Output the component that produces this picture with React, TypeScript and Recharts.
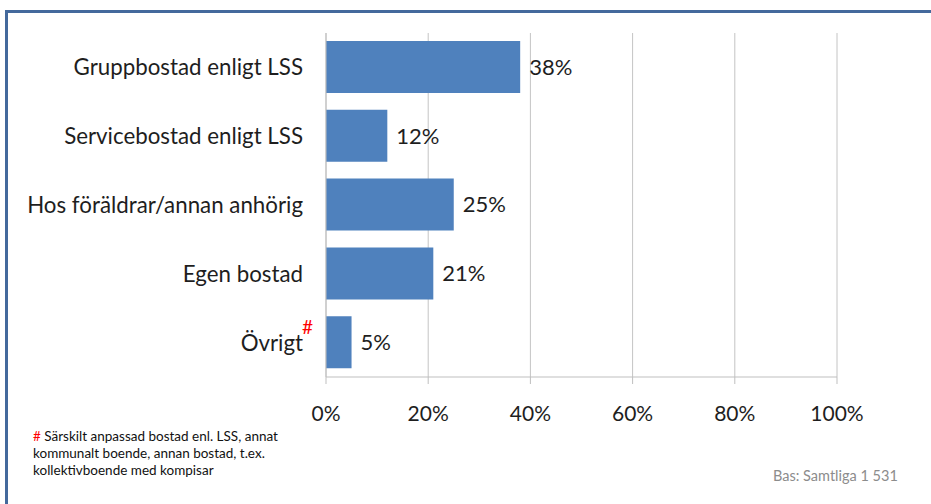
import React from "react";
import { BarChart, Bar, XAxis, YAxis, CartesianGrid, LabelList } from "recharts";

const categories = [
  "Gruppbostad enligt LSS",
  "Servicebostad enligt LSS",
  "Hos föräldrar/annan anhörig",
  "Egen bostad",
  "Övrigt",
];
const values = [38, 12, 25, 21, 5];
const xTicks = [0, 20, 40, 60, 80, 100];
const footnoteLines = [
  "Särskilt anpassad bostad enl. LSS, annat",
  "kommunalt boende, annan bostad, t.ex.",
  "kollektivboende med kompisar",
];
const baseText = "Bas: Samtliga 1 531";

const data = categories.map((name, i) => ({ name, value: values[i] }));

const FONT = "Lato, 'Open Sans', sans-serif";
const TEXT = "#1e1e1e";

const CatTick = (props: any) => {
  const { x, y, payload } = props;
  const isOther = payload.value === "Övrigt";
  return (
    <g>
      <text x={x} y={y} dy="0.355em" textAnchor="end" fontSize={22.3} fill={TEXT} fontFamily={FONT}>
        {payload.value}
      </text>
      {isOther && (
        <text x={x - 1} y={y} dy={-9} textAnchor="start" fontSize={19} fill="#ff0000" fontFamily={FONT}>
          #
        </text>
      )}
    </g>
  );
};

export default function App() {
  return (
    <div style={{ position: "absolute", left: 0, top: 0, width: 931, height: 504, background: "#fff", overflow: "hidden" }}>
      <div style={{ position: "absolute", left: 0, top: 0 }}>
        <BarChart
          width={931}
          height={504}
          data={data}
          layout="vertical"
          margin={{ top: 33, right: 94, left: 0, bottom: 0 }}
        >
          <CartesianGrid horizontal={false} stroke="#c4c4c4" />
          <XAxis
            type="number"
            domain={[0, 100]}
            ticks={xTicks}
            tickFormatter={(v: number) => `${v}%`}
            height={127}
            tickSize={7}
            tickMargin={22}
            axisLine={{ stroke: "#bfbfbf" }}
            tickLine={{ stroke: "#bfbfbf" }}
            tick={{ fontSize: 21, fill: TEXT, fontFamily: FONT }}
            interval={0}
          />
          <YAxis
            type="category"
            dataKey="name"
            width={326}
            tickSize={0}
            tickMargin={23}
            axisLine={{ stroke: "#bfbfbf" }}
            tickLine={false}
            tick={<CatTick />}
            interval={0}
          />
          <Bar dataKey="value" fill="#4f81bd" barSize={52} isAnimationActive={false}>
            <LabelList
              dataKey="value"
              position="right"
              offset={9}
              formatter={(v: any) => `${v}%`}
              style={{ fontSize: 22, fill: TEXT, fontFamily: FONT }}
            />
          </Bar>
        </BarChart>
      </div>
      <div style={{ position: "absolute", left: 880, top: 14, width: 51, height: 440, background: "#fff" }} />
      <div style={{ position: "absolute", left: 5, top: 10, width: 926, height: 3, background: "#44699c" }} />
      <div style={{ position: "absolute", left: 5, top: 10, width: 3, height: 494, background: "#44699c" }} />
      <div
        style={{
          position: "absolute",
          left: 33,
          top: 428,
          fontFamily: FONT,
          fontSize: 13.5,
          lineHeight: "17px",
          color: "#111",
        }}
      >
        {footnoteLines.map((l, i) => (
          <div key={i} style={{ whiteSpace: "nowrap" }}>
            {i === 0 && <span style={{ color: "#ff0000" }}># </span>}
            {l}
          </div>
        ))}
      </div>
      <div
        style={{
          position: "absolute",
          left: 773,
          top: 467,
          fontFamily: FONT,
          fontSize: 14.5,
          lineHeight: "17px",
          color: "#8c8c8c",
          whiteSpace: "nowrap",
        }}
      >
        {baseText}
      </div>
    </div>
  );
}
